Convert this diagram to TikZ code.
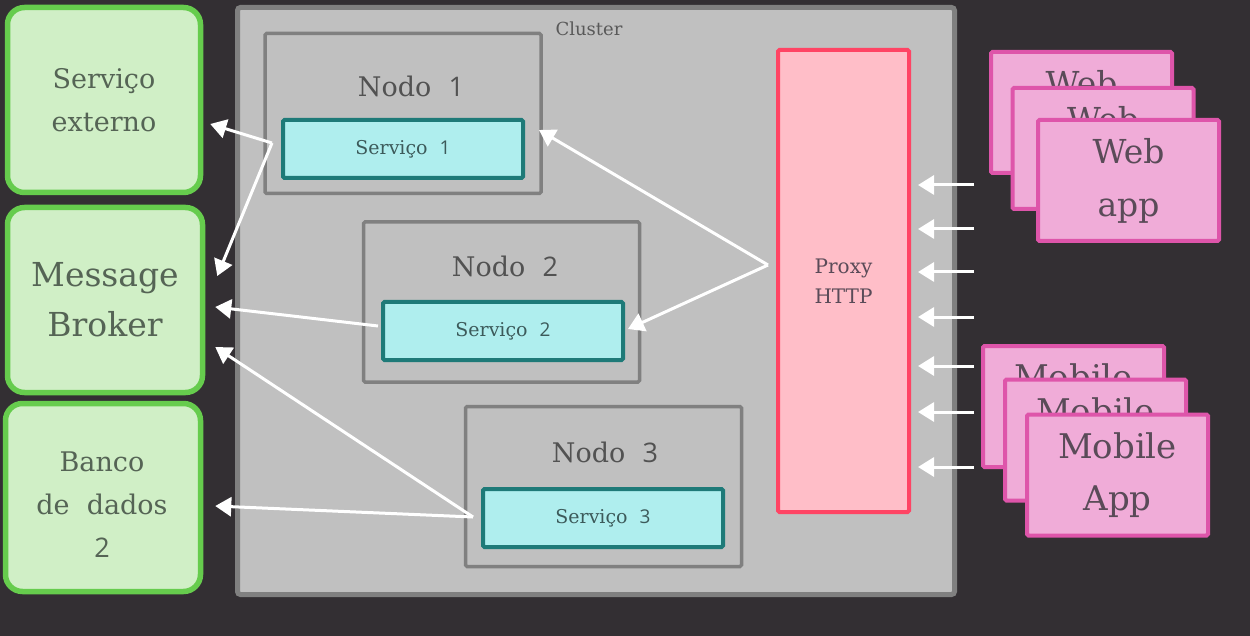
\documentclass[tikz,border=0pt]{standalone}
\usepackage{fontspec}
\setmainfont{DejaVu Serif}
\newfontfamily\digitfont{Open Sans}
\usetikzlibrary{calc}
\usetikzlibrary{arrows.meta}

\definecolor{bgdark}{RGB}{51,47,51}
\definecolor{clusterfill}{RGB}{192,192,192}
\definecolor{clustergray}{RGB}{128,128,128}
\definecolor{extfill}{RGB}{208,239,198}
\definecolor{extborder}{RGB}{102,204,77}
\definecolor{exttext}{RGB}{85,100,85}
\definecolor{servfill}{RGB}{175,238,238}
\definecolor{servborder}{RGB}{30,122,120}
\definecolor{servtext}{RGB}{60,90,90}
\definecolor{proxyfill}{RGB}{255,190,200}
\definecolor{proxyborder}{RGB}{255,68,100}
\definecolor{cardfill}{RGB}{240,172,216}
\definecolor{cardborder}{RGB}{222,85,170}
\definecolor{cardtext}{RGB}{90,75,88}

\newcommand{\nr}[1]{{\digitfont #1}}
\newcommand{\fs}[2]{\fontsize{#1}{#2}\selectfont}

\tikzset{
    clusterbox/.style = {draw=clustergray, fill=clusterfill, line width=5pt, rounded corners=3pt, inner sep=0pt},
    extbox/.style = {draw=extborder, fill=extfill, line width=5.5pt, rounded corners=17pt,
        text=exttext, align=center, inner sep=0pt},
    exttextstyle/.style = {text=exttext, align=center, inner sep=0pt},
    nodobox/.style = {draw=clustergray, line width=3.5pt, rounded corners=1.5pt,
        minimum width=276pt, minimum height=160pt, inner sep=0pt},
    nodolabel/.style = {text=black!68, font=\fs{27}{30}},
    servbox/.style = {draw=servborder, fill=servfill, line width=4pt, rounded corners=1.5pt,
        minimum width=240pt, minimum height=58pt, text=servtext, font=\fs{19}{22}, inner sep=0pt},
    proxybox/.style = {draw=proxyborder, fill=proxyfill, line width=4pt, rounded corners=1.5pt,
        text=cardtext, align=center, font=\fs{20}{30}, inner sep=0pt},
    appcard/.style = {draw=cardborder, fill=cardfill, line width=4pt, rounded corners=1.5pt,
        minimum width=181pt, minimum height=121pt, text=cardtext, align=center, inner sep=0pt},
    arr/.style = {draw=white, line width=3pt, -{Triangle[length=16pt,width=19pt]}},
}

\begin{document}
\begin{tikzpicture}[x=1pt, y=-1pt]
    \fill[bgdark] (0,0) rectangle (1250,636);
    \useasboundingbox (0,0) rectangle (1250,636);

    % cluster
    \node[clusterbox, minimum width=717pt, minimum height=587pt] (cluster) at (596,301) {};
    \node[text=black!65, font=\fs{18}{20}] (clusterlabel) at (589,29) {Cluster};

    % nodos e servicos
    \node[nodobox] (nodo1) at (403,113.5) {};
    \node[nodolabel] (nodo1label) at (411,86) {Nodo~~\nr{1}};
    \node[servbox] (serv1) at (403,149) {Serviço~~\nr{1}};

    \node[nodobox] (nodo2) at (501.5,302) {};
    \node[nodolabel] (nodo2label) at (505,266) {Nodo~~\nr{2}};
    \node[servbox] (serv2) at (503,331) {Serviço~~\nr{2}};

    \node[nodobox] (nodo3) at (603.5,486.5) {};
    \node[nodolabel] (nodo3label) at (605,452) {Nodo~~\nr{3}};
    \node[servbox] (serv3) at (603,518) {Serviço~~\nr{3}};

    % proxy
    \node[proxybox, minimum width=131pt, minimum height=462pt] (proxy) at (843.5,281) {Proxy\\HTTP};

    % servicos externos
    \node[extbox, minimum width=193pt, minimum height=185pt, font=\fs{27}{43}] (ext) at (104,100) {Serviço\\externo};
    \node[extbox, minimum width=195pt, minimum height=185pt, font=\fs{33}{50}] (broker) at (105,300) {Message\\Broker};
    \node[extbox, minimum width=195pt, minimum height=188pt] (db) at (103,497.5) {};
    \node[exttextstyle, font=\fs{27}{43}] (dbtext) at (102,505) {Banco\\de~~dados\\\nr{2}};

    % clientes
    \node[appcard, font=\fs{33}{53}] (web1) at (1081.5,112.5) {Web\\app};
    \node[appcard, font=\fs{33}{53}] (web2) at (1103,148.5) {Web\\app};
    \node[appcard, font=\fs{33}{53}] (web3) at (1128.5,180.5) {Web\\app};
    \node[appcard, font=\fs{34}{52}] (mob1) at (1073.5,406.5) {Mobile\\App};
    \node[appcard, font=\fs{34}{52}] (mob2) at (1095.5,440) {Mobile\\App};
    \node[appcard, font=\fs{34}{52}] (mob3) at (1117.5,475) {Mobile\\App};

    % conexoes
    \coordinate (hub) at (768,265);
    \draw[arr] (hub) -- ($(serv1.east)+(14,-19)$);
    \draw[arr] (hub) -- ($(serv2.east)+(3,-2)$);

    \coordinate (s1src) at ($(serv1.west)+(-9,-6)$);
    \draw[arr] (s1src) -- ($(ext.east)+(7,24)$);
    \draw[arr] (s1src) -- ($(broker.east)+(12,-24)$);

    \coordinate (s2src) at ($(serv2.west)+(-3,-5)$);
    \draw[arr] (s2src) -- ($(broker.east)+(10,7)$);

    \coordinate (s3src) at ($(serv3.west)+(-8,-1)$);
    \draw[arr] (s3src) -- ($(broker.east)+(10,47)$);
    \draw[arr] (s3src) -- ($(db.east)+(12,8.5)$);

    \foreach \y [count=\i] in {185,229,272,317,366,412,467}{
        \coordinate (req\i) at (974,\y);
        \draw[arr] (req\i) -- ($(proxy.east |- req\i)+(7,0)$);
    }
\end{tikzpicture}
\end{document}
